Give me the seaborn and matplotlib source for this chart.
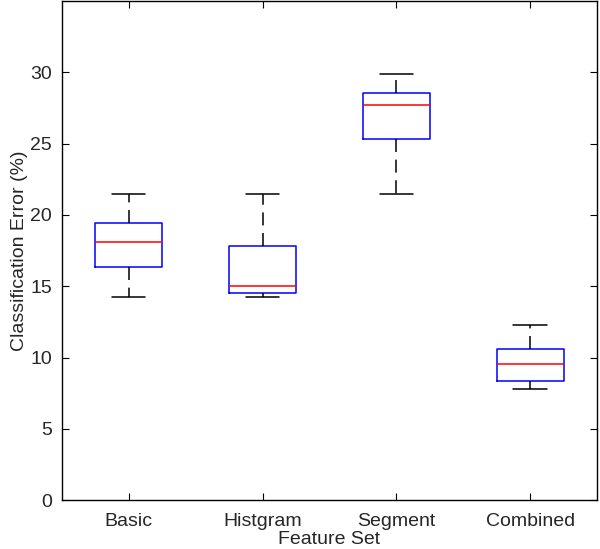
import matplotlib
matplotlib.use("Agg")
import matplotlib.pyplot as plt
import numpy as np
import pandas as pd
import seaborn as sns

# Box summaries: lower whisker, Q1, median, Q3, upper whisker
CATEGORIES = ["Basic", "Histgram", "Segment", "Combined"]
LOWER  = [14.25, 14.25, 21.45, 7.8]
Q1     = [16.37, 14.55, 25.30, 8.39]
MEDIAN = [18.08, 15.02, 27.68, 9.53]
Q3     = [19.43, 17.82, 28.57, 10.60]
UPPER  = [21.45, 21.45, 29.90, 12.31]

rows = []
for i, cat in enumerate(CATEGORIES):
    for v in (LOWER[i], Q1[i], MEDIAN[i], Q3[i], UPPER[i]):
        rows.append({"Feature Set": cat, "err": v})
df = pd.DataFrame(rows)

sns.set_style("white")
plt.rcParams["font.family"] = ["Liberation Sans", "DejaVu Sans"]

fig = plt.figure(figsize=(6.0, 5.49), dpi=100)
ax = fig.add_axes([0.103, 0.089, 0.892, 0.909])

sns.boxplot(
    data=df, x="Feature Set", y="err", order=CATEGORIES,
    width=0.5, whis=np.inf, fill=False, linecolor="black", linewidth=1.1,
    boxprops={"color": "blue"},
    medianprops={"color": "red"},
    whiskerprops={"color": "black", "linestyle": (0, (8.5, 5))},
    capprops={"color": "black"},
    ax=ax,
)

ax.set_xlim(-0.5, 3.5)
ax.set_ylim(0, 35)
ax.set_yticks([0, 5, 10, 15, 20, 25, 30])
ax.set_xlabel("Feature Set", fontsize=14, labelpad=1)
ax.set_ylabel("Classification Error (%)", fontsize=14, labelpad=2)
ax.tick_params(axis="y", pad=7)
ax.tick_params(axis="x", pad=9)
ax.tick_params(direction="in", length=5, width=0.8, labelsize=14,
               top=True, right=True, bottom=True, left=True, color="black")
for s in ax.spines.values():
    s.set_visible(True)
    s.set_color("black")
    s.set_linewidth(1.0)

fig.savefig("out.png", dpi=100)
